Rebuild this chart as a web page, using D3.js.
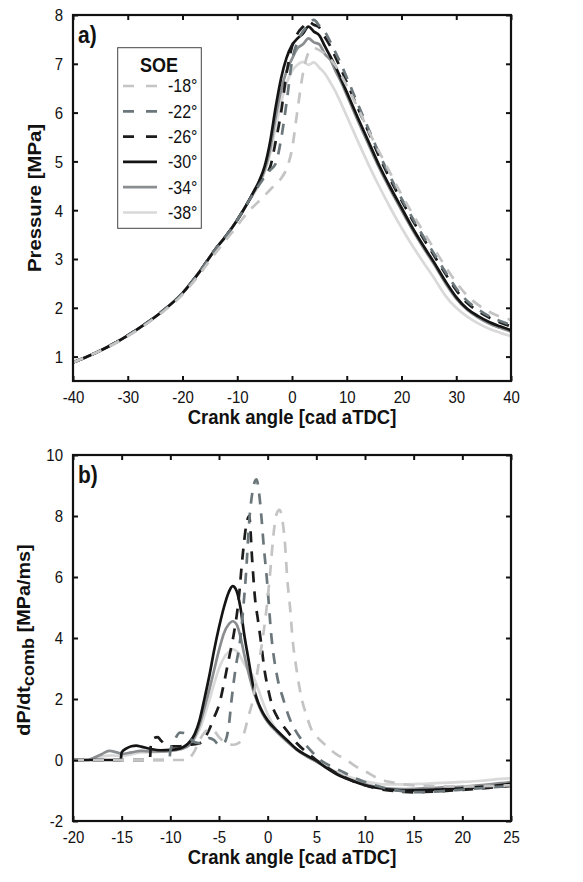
<!DOCTYPE html>
<html><head><meta charset="utf-8">
<script src="https://cdn.jsdelivr.net/npm/d3@7"></script>
<style>html,body{margin:0;padding:0;background:#fff;} svg{display:block;font-family:"Liberation Sans",Arial,sans-serif;}</style>
</head><body><svg id="c" width="583" height="882"></svg>
<script>
// ---------- DATA ----------
const soeLabels = ["-18°", "-22°", "-26°", "-30°", "-34°", "-38°"];

// Panel a) : pressure [MPa] vs crank angle
const cadA = [-40,-36,-32,-28,-24,-20,-17,-14,-12,-10,-9,-8,
  -7,-6,-5,-4,-3,-2,-1,0,1,2,3,4,5,6,7,8,9,10,
  12,14,16,18,20,22,24,26,28,30,32,34,36,38,40];
const pA18 = [0.88,1.07,1.29,1.56,1.88,2.27,2.67,3.12,3.40,3.68,3.83,3.97,
  4.08,4.19,4.30,4.42,4.53,4.65,4.85,5.25,6.05,6.80,7.22,7.32,7.28,7.20,7.10,6.95,6.76,6.55,
  6.10,5.62,5.18,4.75,4.32,3.93,3.56,3.20,2.85,2.52,2.25,2.06,1.92,1.82,1.75];
const pA22 = [0.88,1.07,1.30,1.58,1.90,2.30,2.72,3.20,3.48,3.80,3.98,4.17,
  4.35,4.52,4.68,4.82,4.95,5.45,6.20,7.05,7.45,7.66,7.80,7.90,7.78,7.66,7.45,7.22,6.98,6.72,
  6.18,5.66,5.14,4.67,4.24,3.84,3.46,3.10,2.74,2.40,2.14,1.97,1.83,1.73,1.65];
const pA26 = [0.88,1.07,1.30,1.58,1.90,2.30,2.72,3.20,3.48,3.80,3.98,4.17,
  4.36,4.55,4.72,4.88,5.40,6.00,6.80,7.35,7.62,7.76,7.86,7.80,7.74,7.55,7.36,7.12,6.88,6.62,
  6.10,5.60,5.08,4.62,4.20,3.80,3.42,3.06,2.70,2.36,2.10,1.93,1.80,1.70,1.62];
const pA30 = [0.88,1.07,1.30,1.58,1.90,2.30,2.72,3.20,3.48,3.80,3.98,4.17,
  4.38,4.60,4.90,5.40,6.10,6.70,7.12,7.38,7.52,7.62,7.76,7.66,7.58,7.36,7.15,6.93,6.68,6.42,
  5.90,5.40,4.90,4.46,4.05,3.64,3.27,2.92,2.55,2.22,1.98,1.83,1.71,1.62,1.54];
const pA34 = [0.88,1.07,1.30,1.58,1.90,2.30,2.72,3.20,3.48,3.80,3.98,4.17,
  4.36,4.56,4.82,5.25,5.90,6.45,6.85,7.10,7.32,7.40,7.52,7.44,7.40,7.20,7.08,6.84,6.62,6.36,
  5.84,5.34,4.85,4.41,4.00,3.60,3.23,2.88,2.51,2.19,1.96,1.80,1.68,1.59,1.51];
const pA38 = [0.88,1.07,1.30,1.58,1.90,2.30,2.72,3.20,3.48,3.80,3.98,4.17,
  4.33,4.52,4.78,5.15,5.70,6.20,6.60,6.85,6.98,7.04,6.98,7.03,6.92,6.80,6.62,6.42,6.18,5.93,
  5.42,4.93,4.47,4.04,3.64,3.27,2.93,2.60,2.25,2.00,1.82,1.68,1.57,1.49,1.42];
const xTicksA = [-40,-30,-20,-10,0,10,20,30,40];
const yTicksA = [1,2,3,4,5,6,7,8];

// Panel b) : dP/dt_comb [MPa/ms] vs crank angle, [cad, value]
const dB18 = [[-20,0],[-8.1,0],[-8,0.05],[-7.5,0.3],[-7,0.65],[-6.5,0.9],[-6,1.0],[-5.5,0.95],[-5,0.75],[-4.5,0.6],[-4,0.52],[-3.5,0.5],[-3,0.55],[-2.5,0.8],[-2,1.4],[-1.5,2.0],[-1,3.0],[-0.5,4.0],[0,5.3],[0.3,6.3],[0.6,7.4],[0.9,8.05],[1.2,8.2],[1.5,7.9],[1.8,7.0],[2.0,6.0],[2.3,5.0],[2.55,4.0],[3.0,2.9],[3.5,2.0],[4,1.45],[4.5,1.0],[5,0.78],[5.9,0.5],[7,0.2],[8.1,0.0],[9,-0.2],[10.2,-0.4],[11,-0.55],[12,-0.68],[12.9,-0.74],[14,-0.8],[16,-0.85],[18,-0.86],[20,-0.87],[22,-0.86],[24,-0.84],[25,-0.83]];
const dB22 = [[-20,0],[-10.1,0],[-10,0.3],[-9.5,0.7],[-9,0.9],[-8.5,0.88],[-8,0.72],[-7.5,0.58],[-7,0.55],[-6.5,0.62],[-6,0.72],[-5.5,0.65],[-5,0.5],[-4.5,0.55],[-4,1.1],[-3.7,2.0],[-3.3,3.0],[-2.8,4.0],[-2.5,5.0],[-2.25,6.0],[-1.85,8.0],[-1.5,8.9],[-1.15,9.2],[-0.9,8.8],[-0.65,8.0],[-0.4,7.0],[-0.1,6.0],[0.4,4.0],[1,2.7],[1.6,2.0],[2.2,1.4],[2.8,1.0],[3.4,0.7],[4,0.46],[5,0.12],[5.4,0.0],[6,-0.12],[7,-0.28],[7.8,-0.4],[9,-0.6],[10,-0.72],[11,-0.83],[12,-0.92],[13,-0.98],[14,-1.03],[15,-1.05],[16,-1.05],[18,-1.02],[20,-0.97],[22,-0.92],[24,-0.87],[25,-0.85]];
const dB26 = [[-20,0],[-12.1,0],[-12,0.5],[-11.7,0.72],[-11.3,0.75],[-11,0.65],[-10.5,0.5],[-10,0.45],[-9,0.45],[-8,0.5],[-7,0.55],[-6.5,0.7],[-6,1.0],[-5.5,1.4],[-5,1.8],[-4.5,2.5],[-4,3.3],[-3.5,4.1],[-3,5.2],[-2.6,6.6],[-2.2,7.7],[-1.9,8.0],[-1.6,6.6],[-1.3,5.3],[-1,4.6],[-0.7,3.9],[-0.3,2.9],[0,2.4],[0.5,1.75],[1,1.4],[2,0.95],[3,0.55],[4,0.25],[5,0.0],[6,-0.22],[7,-0.42],[8,-0.58],[9,-0.72],[10,-0.83],[11,-0.92],[12,-0.98],[13,-1.02],[14,-1.05],[15,-1.06],[16,-1.05],[18,-1.02],[20,-0.98],[22,-0.93],[24,-0.88],[25,-0.85]];
const dB30 = [[-20,0],[-15.1,0],[-15,0.25],[-14.5,0.38],[-14,0.45],[-13.5,0.47],[-13,0.44],[-12,0.36],[-11,0.32],[-10,0.33],[-9,0.38],[-8,0.6],[-7.5,0.85],[-7,1.3],[-6.5,2.0],[-6,2.75],[-5.5,3.6],[-5,4.35],[-4.5,5.0],[-4,5.5],[-3.6,5.7],[-3.2,5.55],[-2.8,5.0],[-2.4,4.1],[-2,3.35],[-1.5,2.45],[-1,1.9],[-0.5,1.55],[0,1.3],[1,0.95],[2,0.65],[3,0.35],[4,0.15],[5,-0.02],[6,-0.25],[7,-0.45],[8,-0.6],[9,-0.72],[10,-0.83],[11,-0.9],[12,-0.95],[13,-0.98],[14,-1.0],[16,-0.99],[18,-0.96],[20,-0.93],[22,-0.88],[24,-0.82],[25,-0.78]];
const dB34 = [[-20,0],[-18.4,0],[-18,0.05],[-17,0.2],[-16.3,0.3],[-15.5,0.25],[-15,0.2],[-14,0.25],[-13,0.3],[-12,0.28],[-11,0.28],[-10,0.3],[-9,0.35],[-8,0.5],[-7.5,0.75],[-7,1.15],[-6.5,1.7],[-6,2.3],[-5.5,2.95],[-5,3.6],[-4.5,4.15],[-4,4.45],[-3.6,4.55],[-3.2,4.45],[-2.8,4.05],[-2.4,3.45],[-2,2.9],[-1.5,2.3],[-1,1.85],[-0.5,1.5],[0,1.25],[1,0.9],[2,0.6],[3,0.33],[4,0.12],[5,-0.05],[6,-0.25],[7,-0.42],[8,-0.58],[9,-0.7],[10,-0.8],[11,-0.87],[12,-0.92],[14,-0.95],[16,-0.93],[18,-0.9],[20,-0.87],[22,-0.82],[24,-0.76],[25,-0.72]];
const dB38 = [[-20,0],[-18.6,0],[-18,0.05],[-17,0.12],[-16,0.15],[-15,0.13],[-14,0.18],[-13,0.25],[-12,0.25],[-11,0.27],[-10,0.3],[-9,0.35],[-8,0.5],[-7.5,0.7],[-7,1.0],[-6.5,1.45],[-6,1.95],[-5.5,2.5],[-5,3.0],[-4.5,3.35],[-4,3.55],[-3.5,3.62],[-3,3.5],[-2.5,3.2],[-2,2.95],[-1.5,2.75],[-1,2.35],[-0.5,1.9],[0,1.5],[1,0.95],[2,0.62],[3,0.33],[4,0.12],[5,-0.05],[6,-0.22],[7,-0.38],[8,-0.52],[9,-0.62],[10,-0.7],[11,-0.76],[12,-0.8],[14,-0.8],[16,-0.78],[18,-0.75],[20,-0.72],[22,-0.68],[24,-0.62],[25,-0.6]];
const xTicksB = [-20,-15,-10,-5,0,5,10,15,20,25];
const yTicksB = [-2,0,2,4,6,8,10];

// ---------- STYLES ----------
const styles = {
  "-18°": {color:"#c4c4c4", dash:"11,9"},
  "-22°": {color:"#6b777b", dash:"11,9"},
  "-26°": {color:"#1c1c1c", dash:"11,9"},
  "-30°": {color:"#141414", dash:null},
  "-34°": {color:"#8b8e90", dash:null},
  "-38°": {color:"#d9d9d9", dash:null}
};
const drawOrder = ["-38°","-34°","-30°","-26°","-22°","-18°"];
const SY = 1.1;   // vertical stretch of the original figure text
const FONT = '"Liberation Sans", Arial, Helvetica, sans-serif';

const svg = d3.select('#c');
const M = {left:73, width:438, height:366};

function stretchedText(g, x, y, str, size, weight, anchor) {
  return g.append('text')
    .attr('transform', `translate(${x},${y}) scale(1,${SY})`)
    .attr('text-anchor', anchor || 'start')
    .style('font-family', FONT).style('font-size', size + 'px')
    .style('font-weight', weight || 'normal').attr('fill', '#111')
    .text(str);
}

function drawPanel(id, top, xDom, yDom, xTicks, yTicks, seriesMap, tag) {
  const g = svg.append('g').attr('transform', `translate(${M.left},${top})`);
  const x = d3.scaleLinear().domain(xDom).range([0, M.width]);
  const y = d3.scaleLinear().domain(yDom).range([M.height, 0]);

  g.append('clipPath').attr('id', 'clip' + id).append('rect')
    .attr('x', 0).attr('y', 0).attr('width', M.width).attr('height', M.height);

  const line = d3.line().x(d => x(d[0])).y(d => y(d[1])).curve(d3.curveMonotoneX);
  const lg = g.append('g').attr('clip-path', `url(#clip${id})`);
  drawOrder.forEach(k => {
    const s = styles[k];
    lg.append('path').datum(seriesMap[k])
      .attr('d', line).attr('fill', 'none')
      .attr('stroke', s.color).attr('stroke-width', 2.7)
      .attr('stroke-dasharray', s.dash)
      .attr('stroke-linejoin', 'round');
  });

  const fmt = d => String(d);
  const ax = g.append('g').attr('transform', `translate(0,${M.height})`)
    .call(d3.axisBottom(x).tickValues(xTicks).tickSize(-5).tickFormat(fmt));
  const ay = g.append('g')
    .call(d3.axisLeft(y).tickValues(yTicks).tickSize(-5).tickFormat(fmt));
  const at = g.append('g')
    .call(d3.axisTop(x).tickValues(xTicks).tickSize(-5).tickFormat(''));
  const ar = g.append('g').attr('transform', `translate(${M.width},0)`)
    .call(d3.axisRight(y).tickValues(yTicks).tickSize(-5).tickFormat(''));
  [ax, ay, at, ar].forEach(a => {
    a.attr('font-family', null).attr('font-size', null);
    a.select('.domain').remove();
    a.selectAll('.tick line').attr('stroke', '#111').attr('stroke-width', 2);
  });
  ax.selectAll('.tick text').attr('y', null).attr('dy', null)
    .attr('transform', `translate(0,21.5) scale(1,${SY})`)
    .style('font-family', FONT).style('font-size', '15px').attr('fill', '#111');
  ay.selectAll('.tick text').attr('x', null).attr('dy', null)
    .attr('text-anchor', 'end')
    .attr('transform', `translate(-10,5.9) scale(1,${SY})`)
    .style('font-family', FONT).style('font-size', '15px').attr('fill', '#111');

  g.append('rect').attr('x', 0).attr('y', 0).attr('width', M.width).attr('height', M.height)
    .attr('fill', 'none').attr('stroke', '#111').attr('stroke-width', 2.2);

  stretchedText(g, 5, 28, tag, 21, 'bold');
  stretchedText(g, M.width / 2, M.height + 43, 'Crank angle [cad aTDC]', 18.5, 'bold', 'middle');
  return g;
}

// Panel a
const mapA = {};
const seriesA = {"-18°":pA18, "-22°":pA22, "-26°":pA26, "-30°":pA30, "-34°":pA34, "-38°":pA38};
Object.keys(seriesA).forEach(k => { mapA[k] = cadA.map((c, i) => [c, seriesA[k][i]]); });
const gA = drawPanel('A', 15, [-40, 40], [0.5, 8], xTicksA, yTicksA, mapA, 'a)');

// Panel b
const mapB = {"-18°":dB18, "-22°":dB22, "-26°":dB26, "-30°":dB30, "-34°":dB34, "-38°":dB38};
const gB = drawPanel('B', 455, [-20, 25], [-2, 10], xTicksB, yTicksB, mapB, 'b)');

// Y titles
svg.append('text')
  .attr('transform', `translate(41,198) scale(1,${SY}) rotate(-90)`)
  .attr('text-anchor', 'middle')
  .style('font-family', FONT).style('font-size', '18.5px').style('font-weight', 'bold').attr('fill', '#111')
  .text('Pressure [MPa]');
const tB = svg.append('text')
  .attr('transform', `translate(30,640) scale(1,${SY}) rotate(-90)`)
  .attr('text-anchor', 'middle')
  .style('font-family', FONT).style('font-size', '18px').style('font-weight', 'bold').attr('fill', '#111');
tB.append('tspan').text('dP/dt');
tB.append('tspan').attr('dy', 4).style('font-size', '16.5px').text('comb');
tB.append('tspan').attr('dy', -4).text(' [MPa/ms]');

// Legend (panel a)
const leg = svg.append('g');
leg.append('rect').attr('x', 117.7).attr('y', 47.7).attr('width', 83.6).attr('height', 180.6)
  .attr('fill', '#fff').attr('stroke', '#444').attr('stroke-width', 1);
stretchedText(leg, 159, 72, 'SOE', 18, 'bold', 'middle');
soeLabels.forEach((lab, i) => {
  const cy = 86 + 25.3 * i;
  const s = styles[lab];
  leg.append('line').attr('x1', 123).attr('x2', 157).attr('y1', cy).attr('y2', cy)
    .attr('stroke', s.color).attr('stroke-width', 2.7).attr('stroke-dasharray', s.dash ? '11,12' : null);
  stretchedText(leg, 168, cy + 6.4, lab, 16, 'normal', 'start');
});
</script></body></html>
